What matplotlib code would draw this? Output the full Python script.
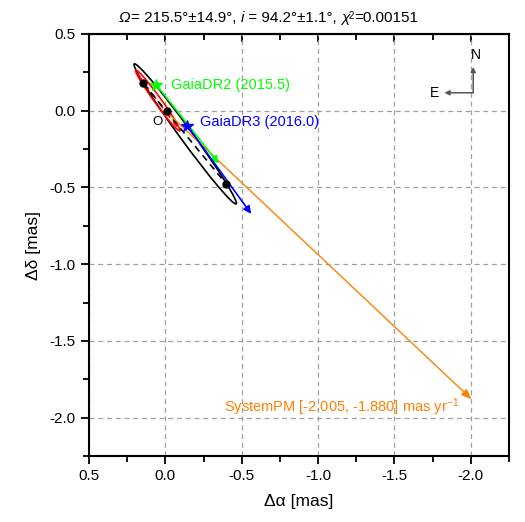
import numpy as np
import matplotlib
matplotlib.use("Agg")
import matplotlib.pyplot as plt
from matplotlib.patches import Ellipse
from matplotlib.offsetbox import TextArea, HPacker, AnchoredOffsetbox

plt.rcParams['font.family'] = ['Liberation Sans', 'DejaVu Sans']
plt.rcParams['mathtext.fontset'] = 'custom'
plt.rcParams['mathtext.rm'] = 'Liberation Sans'
plt.rcParams['mathtext.it'] = 'Liberation Sans:italic'

# apparent orbits: centre x, centre y, full major, full minor, angle (deg)
orbit_black = [-0.130, -0.151, 1.13, 0.080, 53.8]
orbit_red = [0.050, 0.067, 0.49, 0.044, 53.9]

# node points (black dots) and red line of nodes
nodes_x = [0.145, -0.008, -0.400]
nodes_y = [0.179, 0.000, -0.479]
red_line_x = [0.180, -0.082]
red_line_y = [0.233, -0.112]

# Gaia positions and their proper-motion arrow ends
gaia_names = ['GaiaDR2 (2015.5)', 'GaiaDR3 (2016.0)']
gaia_colors = ['#00ff00', '#0000ff']
gaia_x = [0.058, -0.145]
gaia_y = [0.168, -0.100]
gaia_end_x = [-0.350, -0.562]
gaia_end_y = [-0.345, -0.672]

# system proper motion
pm_sys = [-2.005, -1.880]

# fit results for the title
omega_val, omega_err = 215.5, 14.9
inc_val, inc_err = 94.2, 1.1
chi2 = 0.00151

xticks = [0.5, 0.0, -0.5, -1.0, -1.5, -2.0]
yticks = [0.5, 0.0, -0.5, -1.0, -1.5, -2.0]

fig = plt.figure(figsize=(5.25, 5.22), dpi=100)
ax = fig.add_axes([0.1695, 0.1264, 0.800, 0.8085])
ax.set_xlim(0.5, -2.25)
ax.set_ylim(-2.25, 0.5)

ax.set_xticks(xticks)
ax.set_yticks(yticks)
ax.set_xticklabels(['%.1f' % v for v in xticks])
ax.set_yticklabels(['%.1f' % v for v in yticks])
ax.set_xticks(np.arange(0.25, -2.3, -0.5), minor=True)
ax.set_yticks(np.arange(0.25, -2.3, -0.5), minor=True)
ax.grid(True, which='major', color='#a0a0a0', linestyle=(0, (4, 3)), linewidth=0.9)
ax.set_axisbelow(True)

ax.tick_params(which='both', direction='out', labelsize=11, width=1.3,
               top=False, right=False, colors='black')
ax.tick_params(which='major', length=6)
ax.tick_params(which='minor', length=4)
sec = ax.secondary_xaxis('top')
sec.set_xticks(xticks)
sec.set_xticks(np.arange(0.25, -2.3, -0.5), minor=True)
sec.tick_params(which='both', direction='in', labeltop=False, width=1.3)
sec.tick_params(which='major', length=6)
sec.tick_params(which='minor', length=4)
sec.spines['top'].set_linewidth(1.5)
for s in ax.spines.values():
    s.set_linewidth(1.5)

ax.set_xlabel('Δα [mas]', fontsize=12.5, labelpad=8)
ax.set_ylabel('Δδ [mas]', fontsize=12.5, labelpad=6)

# orbits
cx, cy, w, h, ang = orbit_black
ax.add_patch(Ellipse((cx, cy), w, h, angle=ang, fill=False, ec='black', lw=1.2, zorder=3))
cx, cy, w, h, ang = orbit_red
ax.add_patch(Ellipse((cx, cy), w, h, angle=ang, fill=False, ec='red', lw=1.2, zorder=3))
ax.plot(red_line_x, red_line_y, color='red', ls=(0, (4, 3)), lw=1.2, zorder=3)
ax.plot([nodes_x[0], nodes_x[2]], [nodes_y[0], nodes_y[2]], color='black',
        ls=(0, (4, 3)), lw=1.2, zorder=3)
ax.plot(nodes_x, nodes_y, 'o', color='black', ms=5, zorder=5)
ax.text(0.054, -0.071, 'O', fontsize=9.5, ha='center', va='center')

# system proper motion arrow
ax.annotate('', xy=(pm_sys[0], pm_sys[1]), xytext=(0, 0),
            arrowprops=dict(arrowstyle='-|>,head_length=0.5,head_width=0.2',
                            color='#ff8000', lw=1.0,
                            mutation_scale=12, shrinkA=0, shrinkB=0), zorder=4)
ax.text(-1.925, -1.935, 'SystemPM [%.3f, %.3f] mas yr$^{-1}$' % (pm_sys[0], pm_sys[1]),
        color='#ff8000', fontsize=10.5, ha='right', va='center')

# Gaia positions with pm arrows
label_pos = [(-0.040, 0.168), (-0.225, -0.071)]
for i in range(2):
    ax.annotate('', xy=(gaia_end_x[i], gaia_end_y[i]), xytext=(gaia_x[i], gaia_y[i]),
                arrowprops=dict(arrowstyle='-|>', color=gaia_colors[i], lw=1.2,
                                mutation_scale=11, shrinkA=0, shrinkB=0), zorder=4)
    ax.plot(gaia_x[i], gaia_y[i], '*', color=gaia_colors[i], ms=9, zorder=6)
    ax.text(label_pos[i][0], label_pos[i][1], gaia_names[i], color=gaia_colors[i],
            fontsize=10.5, ha='left', va='center')

# compass
ax.annotate('', xy=(-2.016, 0.285), xytext=(-2.016, 0.117),
            arrowprops=dict(arrowstyle='-|>', color='#555555', lw=1.1,
                            mutation_scale=7, shrinkA=0, shrinkB=0))
ax.annotate('', xy=(-1.827, 0.117), xytext=(-2.016, 0.117),
            arrowprops=dict(arrowstyle='-|>', color='#555555', lw=1.1,
                            mutation_scale=7, shrinkA=0, shrinkB=0))
ax.text(-2.034, 0.363, 'N', fontsize=10, ha='center', va='center')
ax.text(-1.761, 0.114, 'E', fontsize=10, ha='center', va='center')

# title built from pieces so the Greek letters can be italic
it = dict(fontsize=11, style='italic')
rm = dict(fontsize=11)
parts = [
    TextArea('Ω', textprops=it),
    TextArea('= %.1f°±%.1f°, ' % (omega_val, omega_err), textprops=rm),
    TextArea('i', textprops=it),
    TextArea(' = %.1f°±%.1f°, ' % (inc_val, inc_err), textprops=rm),
    TextArea('χ', textprops=it),
    TextArea('2', textprops=dict(fontsize=7)),
    TextArea('=%.5f' % chi2, textprops=rm),
]
box = HPacker(children=parts, align='top', pad=0, sep=0)
title = AnchoredOffsetbox(loc='center', child=box, frameon=False, pad=0, borderpad=0,
                          bbox_to_anchor=(0.512, 0.966), bbox_transform=fig.transFigure)
fig.add_artist(title)

fig.savefig('out.png', dpi=100)
